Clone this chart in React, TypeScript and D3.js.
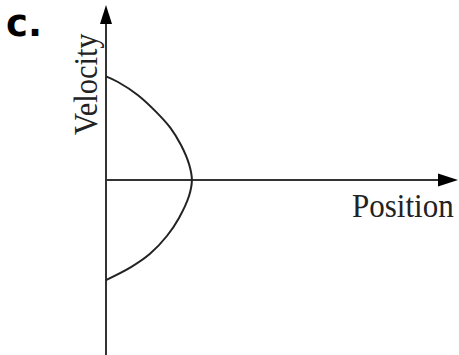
import React from "react";
import * as d3 from "d3";

const W = 459;
const H = 355;

// Curve: position (x) and velocity (y) pairs
const curvePosition = [0, 0.34, 0.9, 1.43, 1.83, 2.13, 2.36, 2.44, 2.36, 2.07, 1.73, 1.25, 0.71, 0];
const curveVelocity = [2.96, 2.8, 2.43, 1.94, 1.49, 1.0, 0.45, 0, -0.45, -1.09, -1.6, -2.11, -2.49, -2.86];

const xLabel = "Position";
const yLabel = "Velocity";
const optionLabel = "c.";

export default function App() {
  const x = d3.scaleLinear().domain([0, 10]).range([106, 458]);
  const y = d3.scaleLinear().domain([-5, 5]).range([355, 5]);

  const pts: [number, number][] = curvePosition.map((p, i) => [p, curveVelocity[i]]);
  const line = d3
    .line<[number, number]>()
    .x((d) => x(d[0]))
    .y((d) => y(d[1]))
    .curve(d3.curveCatmullRom.alpha(0.5));

  const x0 = x(0);
  const y0 = y(0);
  const xEnd = x(10);
  const yTop = y(5);
  const axisColor = "#333";
  const serif = "'Liberation Serif', 'Times New Roman', serif";

  return (
    <svg
      width={W}
      height={H}
      style={{ position: "absolute", left: 0, top: 0, background: "#fff" }}
    >
      {/* vertical axis */}
      <line x1={x0} y1={yTop + 14} x2={x0} y2={y(-5)} stroke={axisColor} strokeWidth={2} />
      <path
        d={`M${x0},${yTop} L${x0 - 6},${yTop + 19} L${x0 + 6},${yTop + 19} Z`}
        fill="#000"
      />
      {/* horizontal axis */}
      <line x1={x0} y1={y0} x2={xEnd - 14} y2={y0} stroke={axisColor} strokeWidth={2} />
      <path
        d={`M${xEnd},${y0} L${xEnd - 20},${y0 - 6.5} L${xEnd - 20},${y0 + 6.5} Z`}
        fill="#000"
      />
      {/* curve */}
      <path d={line(pts) || ""} fill="none" stroke="#222" strokeWidth={2} />

      {/* labels */}
      <text
        transform="translate(352,217) scale(1,1.12)"
        fontFamily={serif}
        fontSize={31}
        fill="#222"
      >
        {xLabel}
      </text>
      <text
        transform="translate(97,135) rotate(-90) scale(1,1.12)"
        fontFamily={serif}
        fontSize={30.5}
        fill="#222"
      >
        {yLabel}
      </text>
      <text
        x={6}
        y={36}
        fontFamily="'DejaVu Sans', Verdana, sans-serif"
        fontWeight="bold"
        fontSize={37}
        fill="#000"
      >
        {optionLabel}
      </text>
    </svg>
  );
}
